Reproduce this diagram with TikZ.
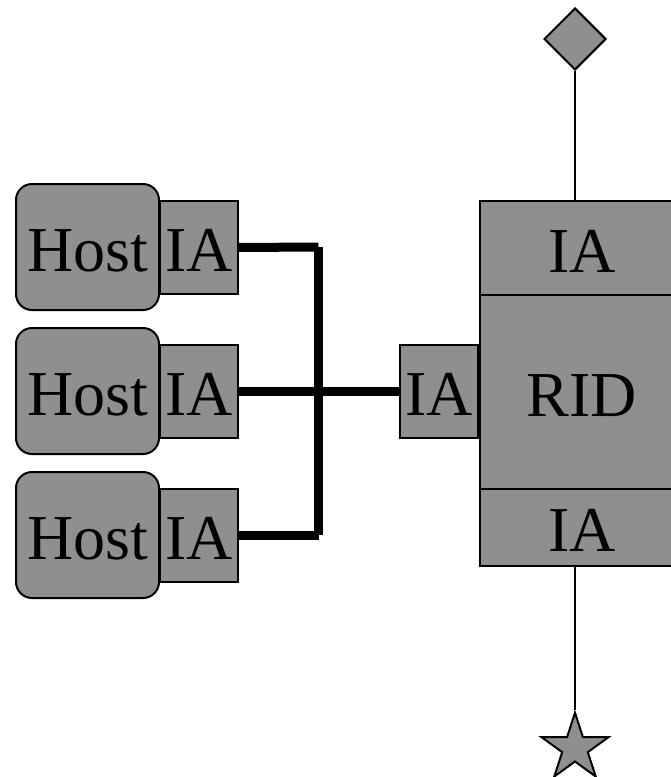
\documentclass[tikz,border=0pt]{standalone}
\usepackage{fontspec}
\setmainfont{Liberation Serif}
\usetikzlibrary{shapes.geometric}
\definecolor{boxgray}{RGB}{143,143,143}
\tikzset{
  box/.style={draw, fill=boxgray, line width=2pt, inner sep=0pt, outer sep=0pt,
              text height=48pt, text depth=0pt,
              font=\fontsize{64}{64}\selectfont},
  hostbox/.style={box, rounded corners=16pt, minimum width=143pt, minimum height=126pt},
  iabox/.style={box, minimum width=78pt, minimum height=93pt},
  ridpart/.style={box, minimum width=204pt},
  bus/.style={line width=9pt, line cap=butt},
  stem/.style={line width=2pt},
  marker/.style={draw, fill=boxgray, line width=2pt, inner sep=0pt}
}
\begin{document}
\begin{tikzpicture}[x=1pt,y=-1pt]
\useasboundingbox (0,0) rectangle (671,777);
\clip (0,0) rectangle (671,777);

% hosts with their interface adapters
\node[hostbox] (host1) at (87.5,247) {Host};
\node[iabox]   (ia1)   at (199,247.5) {IA};
\node[hostbox] (host2) at (87.5,391) {Host};
\node[iabox]   (ia2)   at (199,391.5) {IA};
\node[hostbox] (host3) at (87.5,535) {Host};
\node[iabox]   (ia3)   at (199,535) {IA};

% router column
\node[iabox] (ria) at (439,391.5) {IA};
\node[ridpart, minimum height=94pt]  (topia) at (582,248)   {IA};
\node[ridpart, minimum height=194pt] (rid)   at (582,392)   {RID};
\node[ridpart, minimum height=77pt]  (botia) at (582,527.5) {IA};

% shared bus
\coordinate (jt) at (318.5,247);
\coordinate (jb) at (318.5,535);
\draw[bus] (ia1.east) -- (jt);
\draw[bus] (jt) -- (jb);
\draw[bus] (ia3.east) -- (jb);
\draw[bus] (ia2.east) -- (ria.west);

% uplink and downlink markers
\node[marker, diamond, minimum width=62pt, minimum height=62pt] (diam) at (575,39) {};
\node[marker, star, star points=5, star point ratio=2.618, minimum size=70.5pt] (st) at (575,748) {};
\draw[stem] (diam.south) -- (diam.south |- topia.north);
\draw[stem] (botia.south -| st.north) -- (st.north);
\end{tikzpicture}
\end{document}
